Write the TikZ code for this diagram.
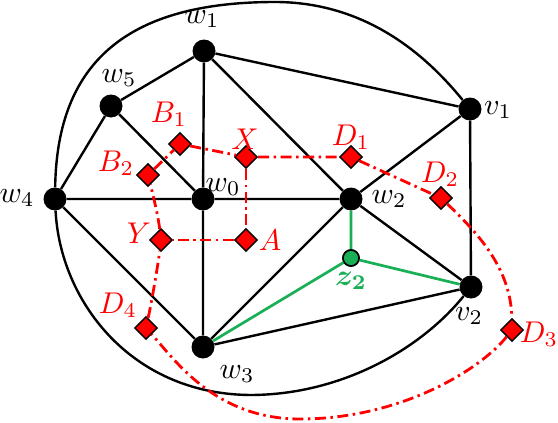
\documentclass[tikz,border=0pt]{standalone}
\usepackage{amsmath}
\usetikzlibrary{shapes.geometric}
\definecolor{zgreen}{RGB}{25,175,85}
\begin{document}
\begin{tikzpicture}[x=1pt,y=-1pt,
  vtx/.style={circle,fill=black,inner sep=0pt,minimum size=23pt},
  gvtx/.style={circle,fill=zgreen,draw=black,line width=1.6pt,inner sep=0pt,minimum size=16pt},
  dia/.style={diamond,fill=red,draw=black,line width=1.4pt,inner sep=0pt,minimum size=23pt},
  lab/.style={inner sep=0pt,scale=3.0},
  rlab/.style={lab,text=red},
  edge/.style={line width=2.4pt,draw=black},
  gedge/.style={line width=2.7pt,draw=zgreen},
  redge/.style={line width=2.8pt,draw=red,dash pattern=on 11pt off 4.5pt on 2.5pt off 4.5pt}]
\useasboundingbox (0,0) rectangle (558,423);
% vertices
\node[vtx] (w1) at (204,51) {};
\node[vtx] (w5) at (111,106) {};
\node[vtx] (w4) at (55,199) {};
\node[vtx] (w0) at (203,199) {};
\node[vtx] (w2) at (351,199) {};
\node[vtx] (v1) at (470,109) {};
\node[vtx] (v2) at (471,287) {};
\node[vtx] (w3) at (203,347) {};
\node[gvtx] (z2) at (351,258) {};
\coordinate (ctop) at (275,2);
\coordinate (cbot) at (250,395);
\coordinate (rbot) at (300,419);
% black edges
\draw[edge] (w1)--(w5) (w1)--(w0) (w1)--(v1) (w1)--(w2)
  (w5)--(w4) (w5)--(w0) (w4)--(w0) (w0)--(w2) (w4)--(w3) (w0)--(w3)
  (w2)--(v1) (w2)--(v2) (w2)--(w3) (v1)--(v2) (w3)--(v2);
\draw[edge] (w4) .. controls (57,60) and (130,2) .. (ctop) .. controls (370,2) and (430,60) .. (v1);
\draw[edge] (w4) .. controls (60,300) and (130,394) .. (cbot) .. controls (340,395) and (420,350) .. (v2);
% green edges
\draw[gedge] (w2)--(z2) (z2)--(w3) (z2)--(v2);
\node[gvtx] at (z2) {};
% diamonds
\node[dia] (B1) at (180,144) {};
\node[dia] (X) at (246,157) {};
\node[dia] (D1) at (351,157) {};
\node[dia] (D2) at (441,198) {};
\node[dia] (B2) at (148,175) {};
\node[dia] (Y) at (161,240) {};
\node[dia] (A) at (246,240) {};
\node[dia] (D4) at (146,328) {};
\node[dia] (D3) at (512,330) {};
% red path
\draw[redge] (B2)--(B1)--(X)--(D1)--(D2);
\draw[redge] (X)--(A)--(Y);
\draw[redge] (D2) .. controls (480,235) and (511,270) .. (D3);
\draw[redge] (D3) .. controls (480,370) and (400,419) .. (rbot) .. controls (215,419) and (175,360) .. (D4);
\draw[redge] (D4) .. controls (152,300) and (158,265) .. (Y);
\draw[redge] (Y) .. controls (158,215) and (153,195) .. (B2);
% labels
\node[lab] (lw1) at (202,19) {$w_1$};
\node[lab] (lw5) at (119,78) {$w_5$};
\node[lab] (lw4) at (17,198) {$w_4$};
\node[lab] (lw0) at (223,187) {$w_0$};
\node[lab] (lw2) at (389,199) {$w_2$};
\node[lab] (lv1) at (498,110) {$v_1$};
\node[lab] (lv2) at (469,316) {$v_2$};
\node[lab] (lw3) at (237,374) {$w_3$};
\node[lab,text=zgreen] (lz2) at (351,281) {$\boldsymbol{z_2}$};
\node[rlab] (lB1) at (169,114) {$B_1$};
\node[rlab] (lX) at (245,139) {$X$};
\node[rlab] (lB2) at (116,163) {$B_2$};
\node[rlab] (lD1) at (351,137) {$D_1$};
\node[rlab] (lD2) at (440,174) {$D_2$};
\node[rlab] (lY) at (139,233) {$Y$};
\node[rlab] (lA) at (270,240) {$A$};
\node[rlab] (lD4) at (118,305) {$D_4$};
\node[rlab] (lD3) at (539,334) {$D_3$};
\end{tikzpicture}
\end{document}
